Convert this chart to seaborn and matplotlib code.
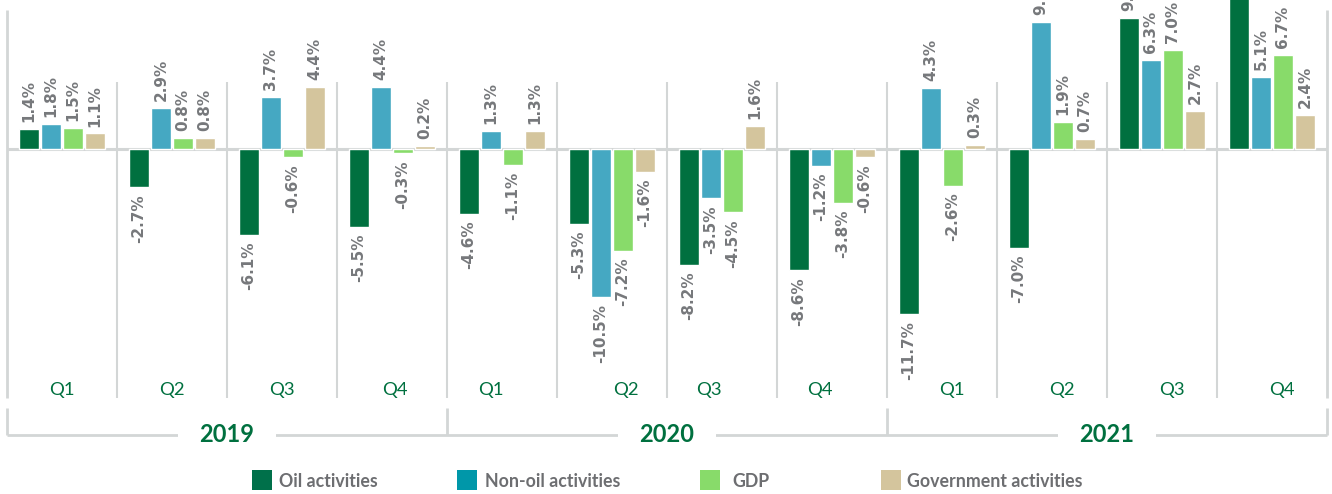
import matplotlib
matplotlib.use("Agg")
import matplotlib.pyplot as plt
import seaborn as sns
import pandas as pd
from matplotlib.patches import Rectangle

years = ["2019", "2020", "2021"]
quarters = ["Q1", "Q2", "Q3", "Q4"]
series = ["Oil activities", "Non-oil activities", "GDP", "Government activities"]

oil = [1.4, -2.7, -6.1, -5.5, -4.6, -5.3, -8.2, -8.6, -11.7, -7.0, 9.3, 10.9]
non_oil = [1.8, 2.9, 3.7, 4.4, 1.3, -10.5, -3.5, -1.2, 4.3, 9.0, 6.3, 5.1]
gdp = [1.5, 0.8, -0.6, -0.3, -1.1, -7.2, -4.5, -3.8, -2.6, 1.9, 7.0, 6.7]
gov = [1.1, 0.8, 4.4, 0.2, 1.3, -1.6, 1.6, -0.6, 0.3, 0.7, 2.7, 2.4]

bar_colors = ["#00703F", "#45A8C2", "#88DB6A", "#D4C59D"]
legend_colors = ["#00704A", "#0097A9", "#88DB6A", "#D4C59D"]
GREEN = "#00703F"
GRAY_TXT = "#76787B"
LINE = "#D3D6D6"

# small horizontal nudges (in category units) of the quarter labels, as in the source
q_label_nudge = [0, 0, 0, 0.03, -0.1, 0.13, -0.12, -0.11, 0.09, 0.09, 0.09, 0.09]

periods = [f"{y} {q}" for y in years for q in quarters]
rows = []
for name, vals in zip(series, [oil, non_oil, gdp, gov]):
    for p, v in zip(periods, vals):
        rows.append({"period": p, "series": name, "value": v})
df = pd.DataFrame(rows)

sns.set_theme(style="white")
plt.rcParams["font.family"] = ["DejaVu Sans"]

W, H = 1332, 494
fig = plt.figure(figsize=(W / 100, H / 100), dpi=100)
ax_left, ax_right, ax_top, ax_bot = 7, 1327, 0, 398
ax = fig.add_axes([ax_left / W, (H - ax_bot) / H, (ax_right - ax_left) / W, (ax_bot - ax_top) / H])

zero_px = 149
ppu = 14.1  # pixels per percent
ymax = (zero_px - ax_top) / ppu
ymin = -(ax_bot - zero_px) / ppu

sns.barplot(data=df, x="period", y="value", hue="series", order=periods,
            hue_order=series, palette=bar_colors, saturation=1, width=0.8,
            gap=0.1, ax=ax, legend=False, errorbar=None)

ax.set_xlim(-0.5, len(periods) - 0.5)
ax.set_ylim(ymin, ymax)
for s in ax.spines.values():
    s.set_visible(False)
ax.set_xticks([])
ax.set_yticks([])
ax.set_xlabel("")
ax.set_ylabel("")

# zero line
ax.axhline(0, color=LINE, lw=2.2, zorder=0.5)

def py(px):
    return (zero_px - px) / ppu

# quarter separators
for i in range(1, len(periods)):
    ax.vlines(i - 0.5, ymin, py(82), color=LINE, lw=1.5, zorder=0.4, clip_on=False)
for xe in (-0.5, len(periods) - 0.5):
    ax.vlines(xe, ymin, py(10), color=LINE, lw=2, zorder=0.4, clip_on=False)

# data labels
for cont in ax.containers:
    labels = [f"{b.get_height():.1f}%" for b in cont]
    ax.bar_label(cont, labels=labels, padding=5, rotation=90, color=GRAY_TXT,
                 fontsize=11, fontweight="bold", family="DejaVu Sans")

# quarter labels
for i, p in enumerate(periods):
    ax.text(i + q_label_nudge[i], py(390), p.split()[1], ha="center", va="center",
            color=GREEN, fontsize=13.3, family="Lato", clip_on=False)

# year brackets
ax.hlines(py(435), -0.5, len(periods) - 0.5, color=LINE, lw=2, clip_on=False)
for k in range(len(years) + 1):
    ax.vlines(k * 4 - 0.5, py(408), py(435), color=LINE, lw=2, clip_on=False)
for k, y in enumerate(years):
    ax.text(k * 4 + 1.5, py(434), y, ha="center", va="center", color=GREEN,
            fontsize=17, fontweight="bold", family="Lato", clip_on=False,
            bbox=dict(boxstyle="square,pad=0.9", fc="white", ec="none"))

# legend
sq_x = [252, 457, 700, 881]
tx_x = [279, 485, 732, 907]
for name, c, sx, tx in zip(series, legend_colors, sq_x, tx_x):
    fig.patches.append(Rectangle((sx / W, (H - 490) / H), 20 / W, 20 / H,
                                 transform=fig.transFigure, fc=c, ec="none"))
    fig.text(tx / W, (H - 481) / H, name, ha="left", va="center", color="#6D6E71",
             fontsize=12.8, fontweight="bold", family="Lato")

fig.savefig("out.png", dpi=100)
